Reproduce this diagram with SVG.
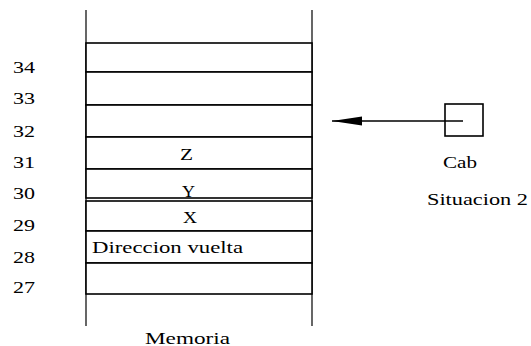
<svg xmlns="http://www.w3.org/2000/svg" width="531" height="346" viewBox="0 0 531 346">
  <style>
    .cell { fill: #fff; stroke: #000; stroke-width: 1.6; }
    .wall { stroke: #000; stroke-width: 1.2; }
    .lbl { font-family: "Liberation Serif", "Times New Roman", serif; font-size: 16px; fill: #000; }
    .conn { stroke: #000; stroke-width: 1.6; fill: none; }
  </style>
  <defs>
    <marker id="head" viewBox="0 0 30 10" refX="30" refY="5" markerWidth="30" markerHeight="10" markerUnits="userSpaceOnUse" orient="auto">
      <path d="M30,5 L0,0.5 L0,9.5 Z" fill="#000"/>
    </marker>
  </defs>

  <!-- memory stack walls -->
  <g id="memoria">
    <line class="wall" x1="86" y1="10" x2="86" y2="326"/>
    <line class="wall" x1="312" y1="10" x2="312" y2="326"/>
    <text class="lbl" x="145" y="344" textLength="85" lengthAdjust="spacingAndGlyphs">Memoria</text>
  </g>

  <!-- memory cells -->
  <g id="cell34"><rect class="cell" x="86" y="43" width="226" height="29"/></g>
  <g id="cell33"><rect class="cell" x="86" y="72" width="226" height="33"/></g>
  <g id="cell32"><rect class="cell" x="86" y="105" width="226" height="32"/></g>
  <g id="cell31"><rect class="cell" x="86" y="137" width="226" height="32"/>
    <text class="lbl" x="180" y="160" textLength="13" lengthAdjust="spacingAndGlyphs">Z</text></g>
  <g id="cell30"><rect class="cell" x="86" y="169" width="226" height="29"/>
    <text class="lbl" x="182" y="197" textLength="13" lengthAdjust="spacingAndGlyphs">Y</text></g>
  <g id="cell29"><rect class="cell" x="86" y="201" width="226" height="30"/>
    <text class="lbl" x="183" y="223" textLength="14" lengthAdjust="spacingAndGlyphs">X</text></g>
  <g id="cell28"><rect class="cell" x="86" y="231" width="226" height="32"/>
    <text class="lbl" x="92" y="253" textLength="151" lengthAdjust="spacingAndGlyphs">Direccion vuelta</text></g>
  <g id="cell27"><rect class="cell" x="86" y="263" width="226" height="31"/></g>

  <!-- addresses -->
  <g id="addresses">
    <text class="lbl" x="13" y="73" textLength="22" lengthAdjust="spacingAndGlyphs">34</text>
    <text class="lbl" x="13" y="104" textLength="22" lengthAdjust="spacingAndGlyphs">33</text>
    <text class="lbl" x="13" y="137" textLength="22" lengthAdjust="spacingAndGlyphs">32</text>
    <text class="lbl" x="13" y="168" textLength="22" lengthAdjust="spacingAndGlyphs">31</text>
    <text class="lbl" x="13" y="199" textLength="22" lengthAdjust="spacingAndGlyphs">30</text>
    <text class="lbl" x="13" y="231" textLength="22" lengthAdjust="spacingAndGlyphs">29</text>
    <text class="lbl" x="13" y="263" textLength="22" lengthAdjust="spacingAndGlyphs">28</text>
    <text class="lbl" x="13" y="293" textLength="22" lengthAdjust="spacingAndGlyphs">27</text>
  </g>

  <!-- head pointer -->
  <g id="cab">
    <rect class="cell" x="445" y="104" width="38" height="32"/>
    <text class="lbl" x="443" y="168" textLength="34" lengthAdjust="spacingAndGlyphs">Cab</text>
  </g>

  <g id="situacion">
    <text class="lbl" x="427" y="205" textLength="101" lengthAdjust="spacingAndGlyphs">Situacion 2</text>
  </g>

  <g id="connectors">
    <line class="conn" x1="463" y1="121" x2="332" y2="121" marker-end="url(#head)"/>
  </g>
</svg>
